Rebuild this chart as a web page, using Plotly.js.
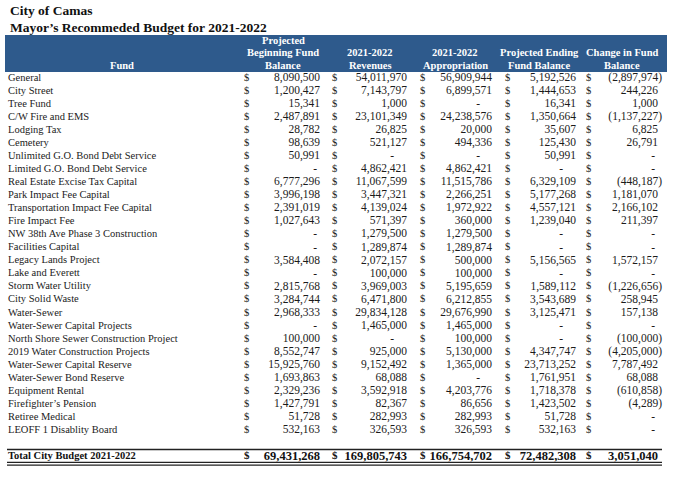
<!DOCTYPE html>
<html><head><meta charset="utf-8">
<script src="https://cdn.plot.ly/plotly-3.0.1.min.js"></script>
<style>html,body{margin:0;padding:0;background:#fff}</style>
</head><body><div id="chart" style="width:675px;height:477px"></div>
<script>
// ---------- DATA ----------
const titleLine1 = "City of Camas";
const titleLine2 = "Mayor\u2019s Recommeded Budget for 2021-2022";
const headers = [
  ["Fund"],
  ["Projected", "Beginning Fund", "Balance"],
  ["2021-2022", "Revenues"],
  ["2021-2022", "Appropriation"],
  ["Projected Ending", "Fund Balance"],
  ["Change in Fund", "Balance"]
];
const funds = [
  "General", "City Street", "Tree Fund", "C/W Fire and EMS", "Lodging Tax", "Cemetery",
  "Unlimited G.O. Bond Debt Service", "Limited G.O. Bond Debt Service",
  "Real Estate Excise Tax Capital", "Park Impact Fee Capital",
  "Transportation Impact Fee Capital", "Fire Impact Fee",
  "NW 38th Ave Phase 3 Construction", "Facilities Capital", "Legacy Lands Project",
  "Lake and Everett", "Storm Water Utility", "City Solid Waste", "Water-Sewer",
  "Water-Sewer Capital Projects", "North Shore Sewer Construction Project",
  "2019 Water Construction Projects", "Water-Sewer Capital Reserve",
  "Water-Sewer Bond Reserve", "Equipment Rental", "Firefighter\u2019s Pension",
  "Retiree Medical", "LEOFF 1 Disablity Board"
];
const beginBalance = [8090500, 1200427, 15341, 2487891, 28782, 98639, 50991, 0, 6777296, 3996198,
  2391019, 1027643, 0, 0, 3584408, 0, 2815768, 3284744, 2968333, 0, 100000, 8552747, 15925760,
  1693863, 2329236, 1427791, 51728, 532163];
const revenues = [54011970, 7143797, 1000, 23101349, 26825, 521127, 0, 4862421, 11067599, 3447321,
  4139024, 571397, 1279500, 1289874, 2072157, 100000, 3969003, 6471800, 29834128, 1465000, 0,
  925000, 9152492, 68088, 3592918, 82367, 282993, 326593];
const appropriation = [56909944, 6899571, 0, 24238576, 20000, 494336, 0, 4862421, 11515786, 2266251,
  1972922, 360000, 1279500, 1289874, 500000, 100000, 5195659, 6212855, 29676990, 1465000, 100000,
  5130000, 1365000, 0, 4203776, 86656, 282993, 326593];
const endBalance = [5192526, 1444653, 16341, 1350664, 35607, 125430, 50991, 0, 6329109, 5177268,
  4557121, 1239040, 0, 0, 5156565, 0, 1589112, 3543689, 3125471, 0, 0, 4347747, 23713252,
  1761951, 1718378, 1423502, 51728, 532163];
const changeInBalance = [-2897974, 244226, 1000, -1137227, 6825, 26791, 0, 0, -448187, 1181070,
  2166102, 211397, 0, 0, 1572157, 0, -1226656, 258945, 157138, 0, -100000, -4205000, 7787492,
  68088, -610858, -4289, 0, 0];
const totalLabel = "Total City Budget 2021-2022";
const totals = [69431268, 169805743, 166754702, 72482308, 3051040];

// ---------- LAYOUT CONSTANTS ----------
const W = 675, H = 477;
const ROW0 = 78, ROWH = 13.05;
const py = p => (p - ROW0) / ROWH;          // pixel row -> axis unit
const numRight = [320, 407, 492, 576, 658];
const dollarX = [244, 332, 420, 505, 586];
const dashOff = [-3, -13, -12, -13, -3];
const headCenter = [122, 283, 370, 455, 539, 622];
const TXT = "#1b1b1b";
const SERIF = "Liberation Serif, Times New Roman, serif";
const NUMSIZE = 11.5, TOTSIZE = 12.5;

function fmt(v) {
  if (v === 0) return "-";
  const s = Math.abs(v).toLocaleString("en-US");
  return v < 0 ? "(" + s + ")" : s;
}
function xFor(c, v) {
  if (v === 0) return numRight[c] + dashOff[c];
  return v < 0 ? numRight[c] + 4 : numRight[c];
}

const columns = [beginBalance, revenues, appropriation, endBalance, changeInBalance];
const rowIdx = funds.map((_, i) => i);
const totalIdx = funds.length + 1;

const traces = [];
// fund names
traces.push({
  type: "scatter", mode: "text", x: funds.map(() => 8), y: rowIdx, text: funds,
  textposition: "middle right", textfont: {family: SERIF, size: 10.5, color: TXT},
  hoverinfo: "skip", showlegend: false, cliponaxis: false
});
columns.forEach((col, c) => {
  traces.push({
    type: "scatter", mode: "text", x: col.map(() => dollarX[c]), y: rowIdx, text: col.map(() => "$"),
    textposition: "middle right", textfont: {family: SERIF, size: 10.5, color: TXT},
    hoverinfo: "skip", showlegend: false, cliponaxis: false
  });
  traces.push({
    type: "scatter", mode: "text", x: col.map(v => xFor(c, v)), y: rowIdx, text: col.map(fmt),
    textposition: "middle left", textfont: {family: SERIF, size: NUMSIZE, color: TXT},
    hoverinfo: "skip", showlegend: false, cliponaxis: false
  });
});
// total row
traces.push({
  type: "scatter", mode: "text", x: [8], y: [totalIdx], text: ["<b>" + totalLabel + "</b>"],
  textposition: "middle right", textfont: {family: SERIF, size: 10.5, color: "#111"},
  hoverinfo: "skip", showlegend: false, cliponaxis: false
});
traces.push({
  type: "scatter", mode: "text", x: dollarX, y: totals.map(() => totalIdx), text: totals.map(() => "<b>$</b>"),
  textposition: "middle right", textfont: {family: SERIF, size: 11, color: "#111"},
  hoverinfo: "skip", showlegend: false, cliponaxis: false
});
traces.push({
  type: "scatter", mode: "text", x: totals.map((v, c) => xFor(c, v)), y: totals.map(() => totalIdx),
  text: totals.map(v => "<b>" + fmt(v) + "</b>"),
  textposition: "middle left", textfont: {family: SERIF, size: TOTSIZE, color: "#111"},
  hoverinfo: "skip", showlegend: false, cliponaxis: false
});

const annotations = [
  {text: "<b>" + titleLine1 + "</b>", x: 8, y: py(10), xanchor: "left", yanchor: "middle",
   font: {family: SERIF, size: 13.5, color: "#111"}},
  {text: "<b>" + titleLine2 + "</b>", x: 8, y: py(27), xanchor: "left", yanchor: "middle",
   font: {family: SERIF, size: 13.5, color: "#111"}}
];
headers.forEach((lines, c) => {
  const n = lines.length;
  lines.forEach((t, k) => {
    const p = 65 - (n - 1 - k) * 12.2;
    annotations.push({text: "<b>" + t + "</b>", x: headCenter[c], y: py(p), xanchor: "center", yanchor: "middle",
      font: {family: SERIF, size: 10.5, color: "#fff"}});
  });
});
annotations.forEach(a => { a.xref = "x"; a.yref = "y"; a.showarrow = false; });

const shapes = [
  {type: "rect", xref: "x", yref: "y", x0: 5, x1: 667, y0: py(35), y1: py(72),
   fillcolor: "#2e5a8c", line: {width: 0}, layer: "below"},
  {type: "line", xref: "x", yref: "y", x0: 7, x1: 662, y0: py(449.5), y1: py(449.5), line: {color: "#222", width: 1.6}},
  {type: "line", xref: "x", yref: "y", x0: 7, x1: 662, y0: py(462.3), y1: py(462.3), line: {color: "#222", width: 1.3}},
  {type: "line", xref: "x", yref: "y", x0: 7, x1: 662, y0: py(465.2), y1: py(465.2), line: {color: "#222", width: 1.3}}
];

const layout = {
  width: W, height: H, margin: {l: 0, r: 0, t: 0, b: 0},
  paper_bgcolor: "#fff", plot_bgcolor: "#fff",
  xaxis: {range: [0, W], visible: false, fixedrange: true},
  yaxis: {range: [py(H), py(0)], visible: false, fixedrange: true},
  annotations, shapes, showlegend: false
};
Plotly.newPlot("chart", traces, layout, {staticPlot: true, displayModeBar: false});
</script></body></html>
